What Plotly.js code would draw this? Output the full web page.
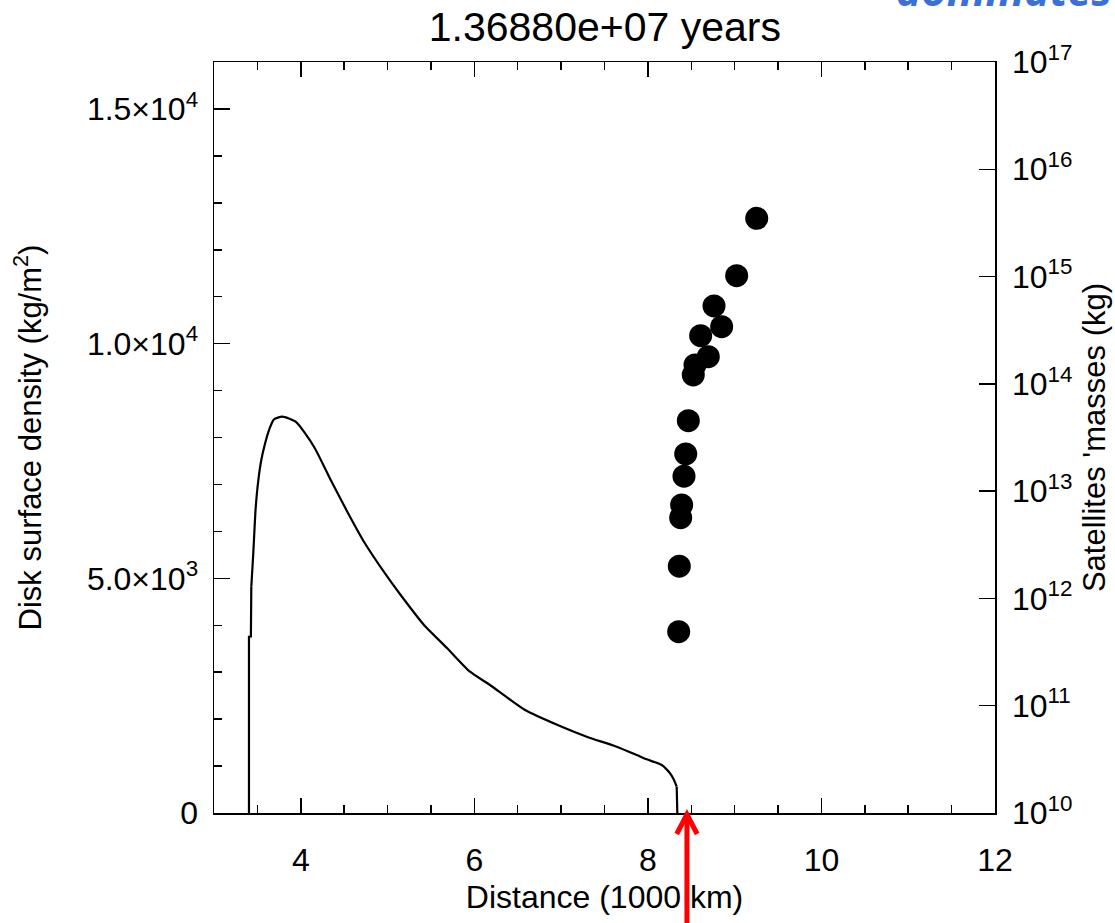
<!DOCTYPE html>
<html>
<head>
<meta charset="utf-8">
<script src="https://cdn.plot.ly/plotly-3.0.1.min.js"></script>
<style>
html,body{margin:0;padding:0;background:#fff;}
#chart{width:1115px;height:923px;}
</style>
</head>
<body>
<div id="chart"></div>
<script>
// Disk surface density profile (distance in 1000 km, density in kg/m^2)
const distance = [3.403, 3.403, 3.425, 3.430, 3.453, 3.480, 3.511, 3.545, 3.584, 3.634, 3.691, 3.787,
  3.941, 4.152, 4.345, 4.536, 4.728, 4.997, 5.151, 5.420, 5.688, 5.950, 6.180, 6.584, 6.987,
  7.295, 7.640, 7.871, 7.986, 8.159, 8.255, 8.301, 8.332, 8.339, 8.339];
const density = [0, 3756, 3760, 4821, 5545, 6491, 7094, 7520, 7840, 8159, 8387, 8443,
  8336, 7804, 7094, 6419, 5780, 5034, 4644, 4005, 3509, 3010, 2727, 2194, 1853,
  1626, 1413, 1236, 1144, 1023, 846, 703, 560, 300, 0];

// Satellites (distance in 1000 km, mass in kg)
const satDistance = [9.254, 9.023, 8.762, 8.850, 8.608, 8.696, 8.543, 8.523, 8.466, 8.436, 8.416, 8.389, 8.378, 8.362, 8.355];
const satMass = [3.49e15, 1.02e15, 5.32e14, 3.41e14, 2.81e14, 1.79e14, 1.50e14, 1.21e14, 4.54e13, 2.22e13, 1.38e13, 7.43e12, 5.65e12, 2.00e12, 4.90e11];

// Tick labels
const xTickVals = [4, 6, 8, 10, 12];
const xTickText = ['4', '6', '8', '10', '12'];
const yTickVals = [0, 5000, 10000, 15000];
const yTickText = ['0', '5.0×10<sup>3</sup>', '1.0×10<sup>4</sup>', '1.5×10<sup>4</sup>'];
const y2TickVals = [1e10, 1e11, 1e12, 1e13, 1e14, 1e15, 1e16, 1e17];
const y2TickText = ['10<sup>10</sup>', '10<sup>11</sup>', '10<sup>12</sup>', '10<sup>13</sup>', '10<sup>14</sup>', '10<sup>15</sup>', '10<sup>16</sup>', '10<sup>17</sup>'];

const titleText = '1.36880e+07 years';
const arrowX = 8.45;

const FONT = 'Liberation Sans, Arial, Helvetica, sans-serif';

// the sharp inner/outer edges are drawn straight, the smooth body as a spline
const nPts = distance.length;
const lineStyle = {color: '#000', width: 2.2};
function curve(i0, i1, shape) {
  return {
    x: distance.slice(i0, i1), y: density.slice(i0, i1), type: 'scatter', mode: 'lines',
    line: Object.assign({}, lineStyle, {shape: shape, smoothing: 0.6}),
    xaxis: 'x', yaxis: 'y', hoverinfo: 'skip', showlegend: false
  };
}

const traces = [
  curve(0, 4, 'linear'),
  curve(3, nPts - 2, 'spline'),
  curve(nPts - 3, nPts, 'linear'),
  {
    x: satDistance, y: satMass, type: 'scatter', mode: 'markers',
    marker: {color: '#000', size: 23}, xaxis: 'x', yaxis: 'y2', showlegend: false, cliponaxis: false
  }
];

const layout = {
  width: 1115, height: 923,
  paper_bgcolor: '#fff', plot_bgcolor: '#fff',
  margin: {l: 214, r: 120, t: 62, b: 110},
  font: {family: FONT, color: '#000', size: 31},
  showlegend: false,
  title: {text: titleText, font: {family: FONT, size: 41, color: '#000'}, x: 0.5425, xanchor: 'center', y: 0.971, yanchor: 'middle', yref: 'container'},
  xaxis: {
    range: [3, 12], showgrid: false, zeroline: false,
    showline: true, linecolor: '#000', linewidth: 1.5, mirror: 'ticks',
    ticks: 'inside', ticklen: 15, tickwidth: 1.5, tickcolor: '#000',
    tickvals: xTickVals, ticktext: xTickText,
    tickfont: {family: FONT, size: 32}, ticklabelstandoff: 18,
    minor: {dtick: 0.5, ticks: 'inside', ticklen: 8, tickwidth: 1.5, tickcolor: '#000', showgrid: false},
    title: {text: 'Distance (1000 km)', font: {family: FONT, size: 32}, standoff: 8}
  },
  yaxis: {
    range: [0, 16000], showgrid: false, zeroline: false,
    showline: true, linecolor: '#000', linewidth: 1.5,
    ticks: 'inside', ticklen: 16, tickwidth: 1.5, tickcolor: '#000',
    tickvals: yTickVals, ticktext: yTickText,
    tickfont: {family: FONT, size: 32}, ticklabelstandoff: 8,
    minor: {dtick: 1000, ticks: 'inside', ticklen: 8, tickwidth: 1.5, tickcolor: '#000', showgrid: false},
    title: {text: 'Disk surface density (kg/m<sup>2</sup>)', font: {family: FONT, size: 31}, standoff: 36},
    automargin: false
  },
  yaxis2: {
    type: 'log', range: [10, 17], overlaying: 'y', side: 'right',
    showgrid: false, zeroline: false,
    showline: true, linecolor: '#000', linewidth: 1.5,
    ticks: 'inside', ticklen: 16, tickwidth: 1.5, tickcolor: '#000',
    tickvals: y2TickVals, ticktext: y2TickText,
    tickfont: {family: FONT, size: 32}, ticklabelstandoff: 9,
    title: {text: "Satellites 'masses (kg)", font: {family: FONT, size: 31}, standoff: 12},
    automargin: false
  },
  shapes: [
    {type: 'line', xref: 'x', yref: 'paper', x0: arrowX, x1: arrowX, y0: -0.16, y1: -0.004,
      line: {color: '#ff0000', width: 5}},
    {type: 'path', xref: 'x', yref: 'paper',
      path: 'M ' + (arrowX - 0.118) + ',' + (-0.028) + ' L ' + arrowX + ',' + (-0.002) + ' L ' + (arrowX + 0.118) + ',' + (-0.028),
      line: {color: '#ff0000', width: 5}}
  ],
  annotations: [
    {text: '<b><i>dominates</i></b>', xref: 'paper', yref: 'paper', x: 1.152, y: 1.054,
      xanchor: 'right', yanchor: 'bottom', showarrow: false,
      font: {family: 'Open Sans, Liberation Sans, sans-serif', size: 43, color: '#3c6fd8'}}
  ]
};

Plotly.newPlot('chart', traces, layout, {staticPlot: true, displayModeBar: false});
</script>
</body>
</html>
